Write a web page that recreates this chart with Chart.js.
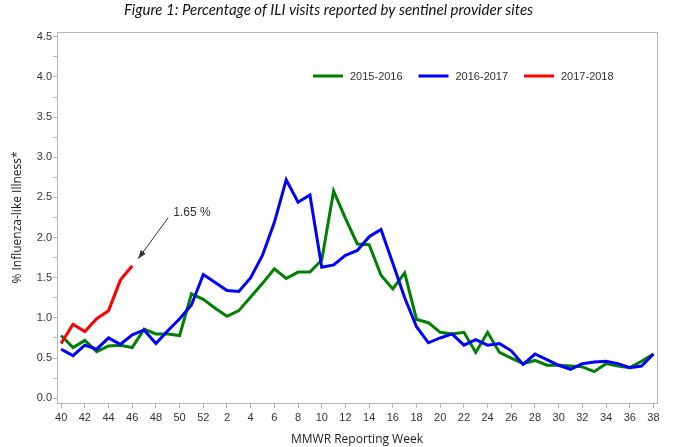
<!DOCTYPE html>
<html>
<head>
<meta charset="utf-8">
<title>ILI visits - sentinel providers</title>
<script src="https://cdn.jsdelivr.net/npm/chart.js@4.4.1/dist/chart.umd.min.js"></script>
<style>
  html, body { margin: 0; padding: 0; background: #fff; }
  canvas { display: block; }
</style>
</head>
<body>
<canvas id="iliChart" width="677" height="447"></canvas>
<script>
// MMWR weeks of a season (week 40 -> week 38 of next year)
const weeks = [40, 41, 42, 43, 44, 45, 46, 47, 48, 49, 50, 51, 52,
               1, 2, 3, 4, 5, 6, 7, 8, 9, 10, 11, 12, 13, 14, 15, 16, 17, 18, 19, 20,
               21, 22, 23, 24, 25, 26, 27, 28, 29, 30, 31, 32, 33, 34, 35, 36, 37, 38];

// % ILI per week
const season1516 = [0.78, 0.63, 0.72, 0.58, 0.65, 0.66, 0.63, 0.86, 0.80, 0.80, 0.78,
                    1.30, 1.23, 1.12, 1.02, 1.09, 1.26, 1.43, 1.61, 1.49, 1.57,
                    1.57, 1.72, 2.58, 2.24, 1.92, 1.91, 1.53, 1.36, 1.56, 0.98,
                    0.94, 0.82, 0.80, 0.82, 0.57, 0.82, 0.57, 0.50, 0.43, 0.47,
                    0.41, 0.41, 0.40, 0.39, 0.33, 0.43, 0.40, 0.38, 0.46, 0.55];
const season1617 = [0.61, 0.53, 0.66, 0.61, 0.75, 0.67, 0.79, 0.85, 0.68, 0.84, 0.99,
                    1.16, 1.54, 1.44, 1.34, 1.33, 1.50, 1.78, 2.19, 2.72, 2.44,
                    2.53, 1.63, 1.66, 1.78, 1.84, 2.01, 2.10, 1.68, 1.25, 0.89,
                    0.69, 0.75, 0.80, 0.66, 0.73, 0.66, 0.68, 0.59, 0.42, 0.55,
                    0.48, 0.41, 0.36, 0.43, 0.45, 0.46, 0.43, 0.38, 0.40, 0.55];
const season1718 = [0.68, 0.92, 0.83, 0.99, 1.09, 1.47, 1.65];

const seasonNames = ['2015-2016', '2016-2017', '2017-2018'];
const seasonColors = ['#008000', '#0000ff', '#ff0000'];

// y ticks (labelled every 0.5, small ticks between)
const yTicks = [0, 0.25, 0.5, 0.75, 1, 1.25, 1.5, 1.75, 2, 2.25, 2.5, 2.75,
                3, 3.25, 3.5, 3.75, 4, 4.25, 4.5];
const noteText = '1.65 %';

const toPoints = arr => arr.map((v, i) => ({ x: i, y: v }));

// frame around the plot area (top + right sides)
const frame = {
    id: 'frame',
    afterDraw(chart) {
        const { ctx, chartArea: a } = chart;
        ctx.save();
        ctx.strokeStyle = '#b8b8b8';
        ctx.lineWidth = 1;
        ctx.strokeRect(Math.round(a.left) + 0.5, Math.round(a.top) + 0.5,
            Math.round(a.right - a.left), Math.round(a.bottom - a.top));
        ctx.restore();
    }
};

// legend drawn inside the plot, like the original
const innerLegend = {
    id: 'innerLegend',
    afterDatasetsDraw(chart) {
        const { ctx, chartArea: a } = chart;
        let x = a.left + 256;
        const y = a.top + 44;
        ctx.save();
        ctx.font = '11px "Liberation Sans", Arial, sans-serif';
        ctx.textBaseline = 'middle';
        chart.data.datasets.forEach(ds => {
            ctx.strokeStyle = ds.borderColor;
            ctx.lineWidth = 3;
            ctx.beginPath();
            ctx.moveTo(x, y);
            ctx.lineTo(x + 30, y);
            ctx.stroke();
            ctx.fillStyle = '#333';
            ctx.fillText(ds.label, x + 37, y + 1);
            x += 105.5;
        });
        ctx.restore();
    }
};

// arrow pointing at the last 2017-2018 value
const lastNote = {
    id: 'lastNote',
    afterDatasetsDraw(chart) {
        const meta = chart.getDatasetMeta(2);
        const pt = meta.data[meta.data.length - 1];
        if (!pt) return;
        const { ctx } = chart;
        const tipX = pt.x + 6, tipY = pt.y - 7;
        const tailX = pt.x + 36, tailY = pt.y - 48;
        const ang = Math.atan2(tipY - tailY, tipX - tailX);
        ctx.save();
        ctx.strokeStyle = '#333';
        ctx.fillStyle = '#333';
        ctx.lineWidth = 1;
        ctx.beginPath();
        ctx.moveTo(tailX, tailY);
        ctx.lineTo(tipX, tipY);
        ctx.stroke();
        ctx.beginPath();
        ctx.moveTo(tipX, tipY);
        ctx.lineTo(tipX - 9 * Math.cos(ang - 0.35), tipY - 9 * Math.sin(ang - 0.35));
        ctx.lineTo(tipX - 9 * Math.cos(ang + 0.35), tipY - 9 * Math.sin(ang + 0.35));
        ctx.closePath();
        ctx.fill();
        ctx.font = '12px "Liberation Sans", Arial, sans-serif';
        ctx.textBaseline = 'middle';
        ctx.fillText(noteText, tailX + 5, tailY - 5);
        ctx.restore();
    }
};

const tickFont = { family: '"Liberation Sans", Arial, sans-serif', size: 11 };

new Chart(document.getElementById('iliChart'), {
    type: 'line',
    data: {
        datasets: [season1516, season1617, season1718].map((vals, i) => ({
            label: seasonNames[i],
            data: toPoints(vals),
            borderColor: seasonColors[i],
            backgroundColor: seasonColors[i],
            borderWidth: 3,
            pointRadius: 0,
            tension: 0,
            fill: false,
            order: 3 - i
        }))
    },
    options: {
        responsive: false,
        animation: false,
        devicePixelRatio: 1,
        layout: { padding: { right: 20 } },
        plugins: {
            legend: { display: false },
            tooltip: { enabled: false },
            title: {
                display: true,
                text: 'Figure 1: Percentage of ILI visits reported by sentinel provider sites',
                color: '#111',
                font: { family: 'Lato, "Open Sans", sans-serif', style: 'italic', size: 15, weight: 'normal' },
                padding: { top: 1, bottom: 13 }
            }
        },
        scales: {
            x: {
                type: 'linear',
                min: -0.35,
                max: 50.3,
                afterBuildTicks: scale => {
                    scale.ticks = weeks.map((w, i) => i).filter(i => i % 2 === 0).map(v => ({ value: v }));
                },
                afterFit: scale => { scale.height = 44; },
                ticks: {
                    autoSkip: false,
                    maxRotation: 0,
                    padding: 3,
                    color: '#333',
                    font: tickFont,
                    callback: v => weeks[v]
                },
                grid: { drawOnChartArea: false, drawTicks: true, tickLength: 5, color: '#b8b8b8' },
                border: { color: '#b8b8b8' },
                title: {
                    display: true,
                    text: 'MMWR Reporting Week',
                    color: '#222',
                    font: { family: '"Open Sans", sans-serif', size: 12 },
                    padding: { top: 3, bottom: 0 }
                }
            },
            y: {
                type: 'linear',
                min: -0.06,
                max: 4.56,
                afterBuildTicks: scale => {
                    scale.ticks = yTicks.map(v => ({ value: v }));
                },
                afterFit: scale => { scale.width = 57; },
                ticks: {
                    padding: 1,
                    color: '#333',
                    font: tickFont,
                    callback: v => (Math.round(v * 100) % 50 === 0 ? v.toFixed(1) : '')
                },
                grid: { drawOnChartArea: false, drawTicks: true, tickLength: 4, color: '#b8b8b8' },
                border: { color: '#b8b8b8' },
                title: {
                    display: true,
                    text: '% Influenza-like Illness*',
                    color: '#222',
                    font: { family: '"Open Sans", sans-serif', size: 12 },
                    padding: { top: 10, bottom: 0 }
                }
            }
        }
    },
    plugins: [frame, innerLegend, lastNote]
});
</script>
</body>
</html>
